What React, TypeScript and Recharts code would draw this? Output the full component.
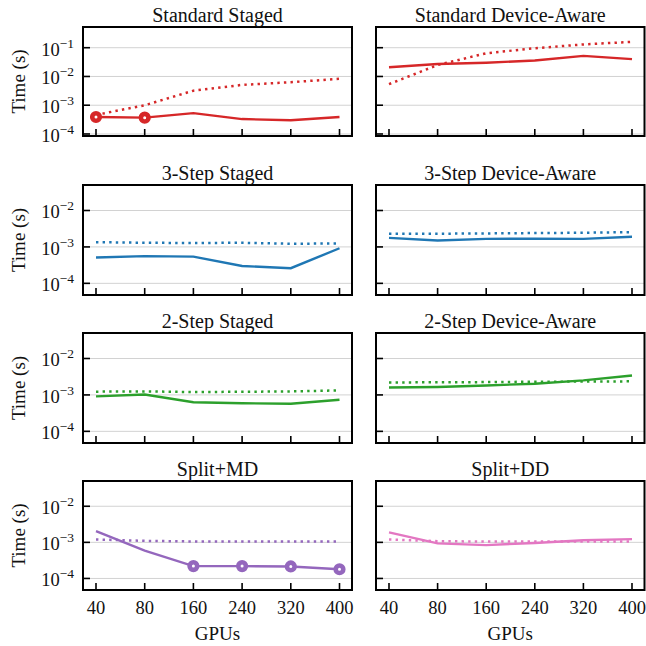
import React from 'react';
import { LineChart, Line, XAxis, YAxis, CartesianGrid } from 'recharts';

// ---------- data ----------
const gpus = ['40', '80', '160', '240', '320', '400'];

const stdStagedSolid = [3.9e-4, 3.7e-4, 5.3e-4, 3.3e-4, 3.0e-4, 3.9e-4];
const stdStagedDotted = [4.6e-4, 1.0e-3, 3.2e-3, 5.1e-3, 6.3e-3, 8.3e-3];
const stdAwareSolid = [0.021, 0.027, 0.03, 0.036, 0.052, 0.04];
const stdAwareDotted = [5.4e-3, 0.025, 0.064, 0.096, 0.13, 0.16];

const s3StagedSolid = [5.1e-4, 5.6e-4, 5.4e-4, 3.0e-4, 2.6e-4, 9.2e-4];
const s3StagedDotted = [1.35e-3, 1.3e-3, 1.28e-3, 1.3e-3, 1.22e-3, 1.25e-3];
const s3AwareSolid = [1.77e-3, 1.5e-3, 1.66e-3, 1.68e-3, 1.66e-3, 1.9e-3];
const s3AwareDotted = [2.3e-3, 2.3e-3, 2.35e-3, 2.4e-3, 2.45e-3, 2.55e-3];

const s2StagedSolid = [9.1e-4, 1.03e-3, 6.3e-4, 5.9e-4, 5.7e-4, 7.4e-4];
const s2StagedDotted = [1.23e-3, 1.25e-3, 1.2e-3, 1.22e-3, 1.25e-3, 1.33e-3];
const s2AwareSolid = [1.6e-3, 1.65e-3, 1.82e-3, 2.03e-3, 2.5e-3, 3.4e-3];
const s2AwareDotted = [2.2e-3, 2.22e-3, 2.25e-3, 2.3e-3, 2.33e-3, 2.36e-3];

const splitMDSolid = [2.05e-3, 5.9e-4, 2.2e-4, 2.2e-4, 2.15e-4, 1.8e-4];
const splitMDDotted = [1.2e-3, 1.1e-3, 1.06e-3, 1.05e-3, 1.05e-3, 1.05e-3];
const splitDDSolid = [1.9e-3, 9.4e-4, 8.4e-4, 9.6e-4, 1.14e-3, 1.23e-3];
const splitDDDotted = [1.2e-3, 1.08e-3, 1.05e-3, 1.05e-3, 1.05e-3, 1.05e-3];

const topTicks = [1e-4, 1e-3, 1e-2, 1e-1];
const lowerTicks = [1e-4, 1e-3, 1e-2];

const titles = [
  'Standard Staged', 'Standard Device-Aware',
  '3-Step Staged', '3-Step Device-Aware',
  '2-Step Staged', '2-Step Device-Aware',
  'Split+MD', 'Split+DD',
];

// ---------- layout ----------
const FONT = '"Liberation Serif", "Times New Roman", Times, serif';
const TXT = '#111';
const colLeft = [83, 376];
const colWidth = [269, 268.5];
const rowTop = [27, 185, 333, 481];
const rowHeight = [109, 110, 110, 109];
const topDomain: [number, number] = [Math.pow(10, -4.07), Math.pow(10, -0.28)];
const lowerDomain: [number, number] = [Math.pow(10, -4.32), Math.pow(10, -1.3)];

const makeXTick = (dir: number, showLabel: boolean) => (props: any) => {
  const { x, y, payload } = props;
  return (
    <g>
      <line x1={x} x2={x} y1={y} y2={y + dir * 7} stroke="#000" strokeWidth={1.6} />
      {showLabel && (
        <text x={x} y={y + 24} textAnchor="middle" fontFamily={FONT} fontSize={18.5} fill={TXT}>
          {payload.value}
        </text>
      )}
    </g>
  );
};

const makeYTick = (dir: number, showLabel: boolean) => (props: any) => {
  const { x, y, payload } = props;
  const e = Math.round(Math.log10(payload.value));
  return (
    <g>
      <line x1={x} x2={x + dir * 7} y1={y} y2={y} stroke="#000" strokeWidth={1.6} />
      {showLabel && (
        <text x={x - 9} y={y + 8} textAnchor="end" fontFamily={FONT} fontSize={18.5} fill={TXT}>
          <tspan>10</tspan>
          <tspan dy={-8} fontSize={13.5}>{'\u2212' + Math.abs(e)}</tspan>
        </text>
      )}
    </g>
  );
};

type PanelProps = {
  row: number;
  col: number;
  solid: number[];
  dotted: number[];
  color: string;
  marks: number[];
};

function Panel({ row, col, solid, dotted, color, marks }: PanelProps) {
  const plotLeft = colLeft[col];
  const plotW = colWidth[col];
  const plotTop = rowTop[row];
  const plotH = rowHeight[row];
  const yW = col === 0 ? 83 : 10;
  const mT = 4;
  const mR = 4;
  const xH = 32;
  const data = gpus.map((g, i) => ({ gpus: g, solid: solid[i], dotted: dotted[i] }));
  const domain = row === 0 ? topDomain : lowerDomain;
  const ticks = row === 0 ? topTicks : lowerTicks;
  const renderDot = (p: any) =>
    marks.includes(p.index) ? (
      <circle key={'m' + p.index} cx={p.cx} cy={p.cy} r={3.8} fill="#fff" stroke={color} strokeWidth={4.6} />
    ) : (
      <g key={'n' + p.index} />
    );
  return (
    <div style={{ position: 'absolute', left: plotLeft - yW, top: plotTop - mT }}>
      <LineChart
        width={yW + plotW + mR}
        height={mT + plotH + xH}
        data={data}
        margin={{ top: mT, right: mR, bottom: 0, left: 0 }}
      >
        <CartesianGrid horizontal vertical={false} stroke="#d2d2d2" strokeWidth={1} />
        <XAxis
          dataKey="gpus"
          type="category"
          interval={0}
          height={xH}
          padding={{ left: 13, right: 12.5 }}
          axisLine={false}
          tickLine={false}
          tickSize={0}
          tickMargin={0}
          tick={makeXTick(-1, row === 3)}
        />
        <XAxis
          xAxisId="top"
          orientation="top"
          dataKey="gpus"
          type="category"
          interval={0}
          height={0}
          padding={{ left: 13, right: 12.5 }}
          axisLine={false}
          tickLine={false}
          tickSize={0}
          tickMargin={0}
          tick={makeXTick(1, false)}
        />
        <YAxis
          scale="log"
          type="number"
          domain={domain}
          allowDataOverflow
          ticks={ticks}
          interval={0}
          width={yW}
          axisLine={false}
          tickLine={false}
          tickSize={0}
          tickMargin={0}
          tick={makeYTick(1, col === 0)}
        />
        <YAxis
          yAxisId="right"
          orientation="right"
          scale="log"
          type="number"
          domain={domain}
          allowDataOverflow
          ticks={ticks}
          interval={0}
          width={0}
          axisLine={false}
          tickLine={false}
          tickSize={0}
          tickMargin={0}
          tick={makeYTick(-1, false)}
        />
        <Line
          type="linear"
          dataKey="dotted"
          stroke={color}
          strokeWidth={2.5}
          strokeDasharray="2.4 4.2"
          dot={false}
          isAnimationActive={false}
        />
        <Line
          type="linear"
          dataKey="solid"
          stroke={color}
          strokeWidth={2.4}
          dot={renderDot}
          activeDot={false}
          isAnimationActive={false}
        />
      </LineChart>
    </div>
  );
}

export default function App() {
  const panels: PanelProps[] = [
    { row: 0, col: 0, solid: stdStagedSolid, dotted: stdStagedDotted, color: '#d62728', marks: [0, 1] },
    { row: 0, col: 1, solid: stdAwareSolid, dotted: stdAwareDotted, color: '#d62728', marks: [] },
    { row: 1, col: 0, solid: s3StagedSolid, dotted: s3StagedDotted, color: '#1f77b4', marks: [] },
    { row: 1, col: 1, solid: s3AwareSolid, dotted: s3AwareDotted, color: '#1f77b4', marks: [] },
    { row: 2, col: 0, solid: s2StagedSolid, dotted: s2StagedDotted, color: '#2ca02c', marks: [] },
    { row: 2, col: 1, solid: s2AwareSolid, dotted: s2AwareDotted, color: '#2ca02c', marks: [] },
    { row: 3, col: 0, solid: splitMDSolid, dotted: splitMDDotted, color: '#9467bd', marks: [2, 3, 4, 5] },
    { row: 3, col: 1, solid: splitDDSolid, dotted: splitDDDotted, color: '#e377c2', marks: [] },
  ];
  return (
    <div style={{ position: 'fixed', left: 0, top: 0, width: 646, height: 646, background: '#fff' }}>
      {panels.map((p, i) => (
        <Panel key={i} {...p} />
      ))}
      <svg width={646} height={646} style={{ position: 'absolute', left: 0, top: 0, pointerEvents: 'none' }}>
        {panels.map((p, i) => (
          <rect
            key={'f' + i}
            x={colLeft[p.col]}
            y={rowTop[p.row]}
            width={colWidth[p.col]}
            height={rowHeight[p.row]}
            fill="none"
            stroke="#000"
            strokeWidth={2}
          />
        ))}
        {panels.map((p, i) => (
          <text
            key={'t' + i}
            x={colLeft[p.col] + colWidth[p.col] / 2}
            y={rowTop[p.row] - 5}
            textAnchor="middle"
            fontFamily={FONT}
            fontSize={20}
            fill={TXT}
          >
            {titles[i]}
          </text>
        ))}
        {rowTop.map((t, r) => {
          const cy = t + rowHeight[r] / 2;
          return (
            <text
              key={'y' + r}
              x={24.5}
              y={cy}
              transform={`rotate(-90, 24.5, ${cy})`}
              textAnchor="middle"
              fontFamily={FONT}
              fontSize={19}
              fill={TXT}
            >
              Time (s)
            </text>
          );
        })}
        {[0, 1].map((c) => (
          <text
            key={'x' + c}
            x={colLeft[c] + colWidth[c] / 2}
            y={640}
            textAnchor="middle"
            fontFamily={FONT}
            fontSize={19}
            fill={TXT}
          >
            GPUs
          </text>
        ))}
      </svg>
    </div>
  );
}
